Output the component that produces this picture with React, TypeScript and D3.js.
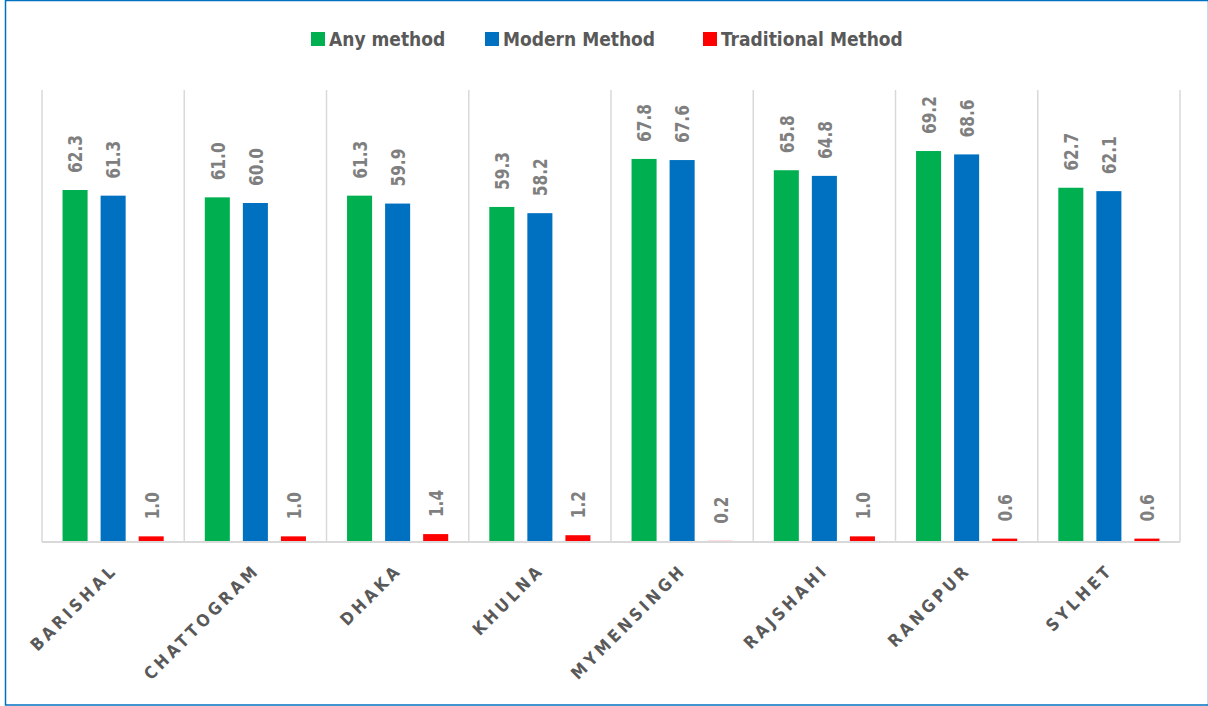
import React from "react";
import * as d3 from "d3";

const categories = ["BARISHAL", "CHATTOGRAM", "DHAKA", "KHULNA", "MYMENSINGH", "RAJSHAHI", "RANGPUR", "SYLHET"];
const seriesNames = ["Any method", "Modern Method", "Traditional Method"];
const anyMethod = [62.3, 61.0, 61.3, 59.3, 67.8, 65.8, 69.2, 62.7];
const modernMethod = [61.3, 60.0, 59.9, 58.2, 67.6, 64.8, 68.6, 62.1];
const traditionalMethod = [1.0, 1.0, 1.4, 1.2, 0.2, 1.0, 0.6, 0.6];
const seriesColors = ["#00B050", "#0070C0", "#FF0000"];

const W = 1208;
const H = 706;
const plot = { left: 42, right: 1180, top: 90, bottom: 542 };
const FONT = "'DejaVu Sans Condensed', 'Roboto', 'Liberation Sans', sans-serif";

export default function App() {
  const seriesValues = [anyMethod, modernMethod, traditionalMethod];
  const x0 = d3.scaleBand<string>().domain(categories).range([plot.left, plot.right]).padding(0);
  const x1 = d3
    .scaleBand<string>()
    .domain(seriesNames)
    .range([0, x0.bandwidth()])
    .paddingInner(0.342)
    .paddingOuter(0.54);
  const y = d3.scaleLinear().domain([0, 80]).range([plot.bottom, plot.top]);

  const legendItems = [
    { x: 311, text: seriesNames[0] },
    { x: 485, text: seriesNames[1] },
    { x: 703, text: seriesNames[2] },
  ];

  return (
    <div style={{ position: "absolute", left: 0, top: 0 }}>
      <svg width={W} height={H} style={{ display: "block", background: "#fff" }}>
        <rect x={5.5} y={0.5} width={W - 5} height={H - 1.5} fill="#fff" stroke="#0070C0" strokeWidth={1.5} />
        {/* legend */}
        {legendItems.map((l, i) => (
          <g key={l.text}>
            <rect x={l.x} y={32} width={14} height={14} fill={seriesColors[i]} />
            <text
              x={l.x + 18}
              y={46}
              fontFamily={FONT}
              fontWeight="bold"
              fontSize={19}
              fill="#595959"
            >
              {l.text}
            </text>
          </g>
        ))}
        {/* gridlines at category boundaries */}
        {categories.map((c) => (
          <line key={"g" + c} x1={x0(c)!} x2={x0(c)!} y1={plot.top} y2={plot.bottom} stroke="#D9D9D9" strokeWidth={1.5} />
        ))}
        <line x1={plot.right} x2={plot.right} y1={plot.top} y2={plot.bottom} stroke="#D9D9D9" strokeWidth={1.5} />
        {/* bars */}
        {categories.map((c, ci) => (
          <g key={c} transform={`translate(${x0(c)},0)`}>
            {seriesNames.map((s, si) => {
              const v = seriesValues[si][ci];
              const bx = x1(s)!;
              const bw = x1.bandwidth();
              return (
                <g key={s}>
                  <rect x={bx} y={y(v)} width={bw} height={plot.bottom - y(v)} fill={seriesColors[si]} />
                  <text
                    transform={`translate(${bx + bw / 2 + 0.5},${y(v) - 17}) rotate(-90) scale(0.9,1)`}
                    dominantBaseline="central"
                    fontFamily={FONT}
                    fontWeight="bold"
                    fontSize={19}
                    fill="#7F7F7F"
                  >
                    {v.toFixed(1)}
                  </text>
                </g>
              );
            })}
          </g>
        ))}
        <line x1={plot.left} x2={plot.right} y1={plot.bottom} y2={plot.bottom} stroke="#D9D9D9" strokeWidth={2} />
        {/* category labels */}
        {categories.map((c) => (
          <text
            key={"l" + c}
            transform={`translate(${x0(c)! + x0.bandwidth() / 2 + 1},${plot.bottom + 25}) rotate(-45)`}
            textAnchor="end"
            dominantBaseline="central"
            fontFamily={FONT}
            fontWeight="bold"
            fontSize={17}
            letterSpacing={3.5}
            fill="#595959"
          >
            {c}
          </text>
        ))}
      </svg>
    </div>
  );
}
